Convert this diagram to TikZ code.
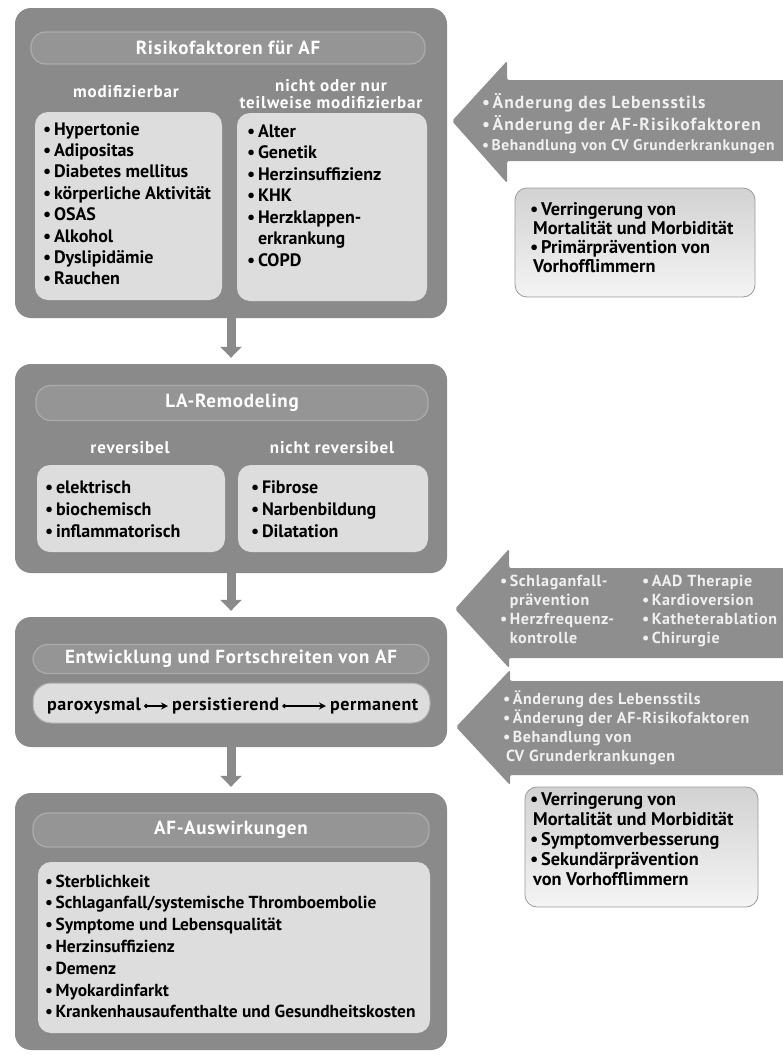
\documentclass[tikz,border=0pt]{standalone}
\usepackage{fontspec}
\setmainfont{PT Sans}
\usetikzlibrary{arrows.meta}
\definecolor{boxgray}{HTML}{8A8A8A}
\definecolor{pillgray}{HTML}{959595}
\definecolor{pillline}{HTML}{ABABAB}
\definecolor{innergray}{HTML}{DDDDDD}
\definecolor{arrowgray}{HTML}{8E8E8E}
\definecolor{lighttext}{HTML}{F0F0F0}
\definecolor{resline}{HTML}{9A9A9A}
\definecolor{restop}{HTML}{D2D2D2}
\definecolor{resbot}{HTML}{F4F4F4}
\newcommand{\bu}{\makebox[0.6em][l]{•}}
\newcommand{\ind}{\makebox[0.6em]{}}
\newcommand{\sind}{\makebox[3pt]{}}
\newcommand{\ls}[1]{\addfontfeature{LetterSpace=#1}}
\begin{document}
\begin{tikzpicture}[x=1pt,y=-1pt,
  outer/.style={fill=boxgray, rounded corners=16pt, minimum width=432pt, inner sep=0pt},
  pill/.style={fill=pillgray, draw=pillline, line width=1.3pt, rounded corners=15pt, inner sep=0pt,
    text=white, font=\fontsize{19}{22}\selectfont\bfseries\ls{4}},
  innerbox/.style={fill=innergray, rounded corners=13pt, inner sep=0pt},
  sub/.style={text=white, font=\fontsize{17}{17.5}\selectfont\bfseries\ls{5}, align=center, inner sep=0pt},
  li/.style={anchor=base west, inner sep=0pt, font=\fontsize{18}{20}\selectfont\bfseries},
  ar/.style={anchor=base west, inner sep=0pt, text=lighttext, font=\fontsize{16}{18}\selectfont\bfseries\ls{4}},
  res/.style={draw=resline, line width=0.8pt, top color=restop, bottom color=resbot,
    rounded corners=12pt, inner sep=0pt},
  conn/.style={draw=boxgray, line width=9pt, -{Triangle[length=11pt,width=21pt]}, shorten >=6pt},
  prog/.style={anchor=base west, inner sep=0pt, text height=12pt, text depth=4pt,
    font=\fontsize{18}{20}\selectfont\bfseries\ls{3}},
  progarrow/.style={line width=1.3pt, {Circle[length=4pt]}-{Stealth[length=7pt,width=7pt]},
    shorten <=3pt, shorten >=4pt}
]
\useasboundingbox[fill=white] (0,0) rectangle (783,1055);

% ---------- outer boxes ----------
\node[outer, minimum height=310pt] (rf) at (231,163) {};
\node[outer, minimum height=209pt] (la) at (231,468.5) {};
\node[outer, minimum height=130pt] (ent) at (231,682) {};
\node[outer, minimum height=257pt] (aus) at (231,921.5) {};

% ---------- connectors ----------
\draw[conn] (rf.south) -- (la.north);
\draw[conn] (la.south) -- (ent.north);
\draw[conn] (ent.south) -- (aus.north);

% ---------- box 1 ----------
\node[pill, minimum width=394pt, minimum height=32pt] (rfT) at (228,48) {Risikofaktoren für AF};
\node[sub] (rfS1) at (126,92) {modifizierbar};
\node[sub] (rfS2) at (331,94) {nicht oder nur\\teilweise modifizierbar};
\node[innerbox, minimum width=187pt, minimum height=188pt] (rfL) at (128.5,206) {};
\node[innerbox, minimum width=190pt, minimum height=188pt] (rfR) at (332,207) {};
\foreach \t [count=\i] in {{\bu Hypertonie},{\bu Adipositas},{\bu Diabetes mellitus},
  {\bu körperliche Aktivität},{\bu OSAS},{\bu Alkohol},{\bu Dyslipidämie},{\bu Rauchen}}
  \node[li] (rfl\i) at (43,{135+21.4*(\i-1)}) {\t};
\foreach \t [count=\i] in {{\bu Alter},{\bu Genetik},{\bu Herzinsuffizienz},{\bu KHK},
  {\bu Herzklappen-},{\ind erkrankung},{\bu COPD}}
  \node[li] (rfr\i) at (247,{137+21.5*(\i-1)}) {\t};

% ---------- box 2 ----------
\node[pill, minimum width=392pt, minimum height=35pt] (laT) at (232,403) {LA-Remodeling};
\node[sub] (laS1) at (130,448) {reversibel};
\node[sub] (laS2) at (332,448) {nicht reversibel};
\node[innerbox, minimum width=188pt, minimum height=87pt] (laL) at (131,508.5) {};
\node[innerbox, minimum width=190pt, minimum height=87pt] (laR) at (333,508.5) {};
\foreach \t [count=\i] in {{\bu elektrisch},{\bu biochemisch},{\bu inflammatorisch}}
  \node[li] (lal\i) at (45,{493+22*(\i-1)}) {\t};
\foreach \t [count=\i] in {{\bu Fibrose},{\bu Narbenbildung},{\bu Dilatation}}
  \node[li] (lar\i) at (251,{493+22*(\i-1)}) {\t};

% ---------- box 3 ----------
\node[pill, minimum width=396pt, minimum height=29pt] (entT) at (231,659) {Entwicklung und Fortschreiten von AF};
\node[innerbox, rounded corners=18pt, draw=pillline, line width=1pt, minimum width=397pt, minimum height=40pt] (entP) at (231.5,703) {};
\node[prog] (pa) at (47,710) {paroxysmal};
\node[prog] (pe) at (172,710) {persistierend};
\node[prog] (pm) at (330,710) {permanent};
\draw[progarrow] (pa.east) -- (pe.west);
\draw[progarrow] (pe.east) -- (pm.west);

% ---------- box 4 ----------
\node[pill, minimum width=396pt, minimum height=34pt] (ausT) at (231,830) {AF-Auswirkungen};
\node[innerbox, minimum width=392pt, minimum height=171pt] (ausL) at (234,947.5) {};
\foreach \t [count=\i] in {{\bu Sterblichkeit},{\bu Schlaganfall/systemische Thromboembolie},
  {\bu Symptome und Lebensqualität},{\bu Herzinsuffizienz},{\bu Demenz},{\bu Myokardinfarkt},
  {\bu Krankenhausaufenthalte und Gesundheitskosten}}
  \node[li, font=\fontsize{17.4}{20}\selectfont\bfseries] (ausl\i) at (45,{887+21.8*(\i-1)}) {\t};

% ---------- right arrows ----------
\fill[arrowgray, rounded corners=2pt] (452,121) -- (507,61) -- (507,80) -- (800,80) -- (800,161)
  -- (507,161) -- (507,183) -- cycle;
\fill[arrowgray, rounded corners=2pt] (455,609) -- (509,549) -- (509,568) -- (800,568) -- (800,658)
  -- (509,658) -- (509,668) -- cycle;
\fill[arrowgray, rounded corners=2pt] (456,727) -- (510,670) -- (510,681) -- (800,681) -- (800,775)
  -- (510,775) -- (510,785) -- cycle;

\node[ar, font=\fontsize{17.5}{18}\selectfont\bfseries\ls{6}] (a1a) at (482,108) {\bu Änderung des Lebensstils};
\node[ar, font=\fontsize{17.5}{18}\selectfont\bfseries\ls{6}] (a1b) at (482,130) {\bu Änderung der AF-Risikofaktoren};
\node[ar, font=\fontsize{15.5}{18}\selectfont\bfseries\ls{4}] (a1c) at (482,150) {\bu Behandlung von CV Grunderkrankungen};

\foreach \t [count=\i] in {{\bu Schlaganfall-},{\ind prävention},{\bu Herzfrequenz-},{\ind kontrolle}}
  \node[ar] (a2l\i) at (500,{586+19.3*(\i-1)}) {\t};
\foreach \t [count=\i] in {{\bu AAD Therapie},{\bu Kardioversion},{\bu Katheterablation},{\bu Chirurgie}}
  \node[ar] (a2r\i) at (642,{586+19.3*(\i-1)}) {\t};
\foreach \t [count=\i] in {{\bu Änderung des Lebensstils},{\bu Änderung der AF-Risikofaktoren},
  {\bu Behandlung von},{\sind CV Grunderkrankungen}}
  \node[ar] (a3\i) at (503,{704+19*(\i-1)}) {\t};

% ---------- result boxes ----------
\node[res, minimum width=240pt, minimum height=109pt] (res1) at (635,242.5) {};
\foreach \t [count=\i] in {{\bu Verringerung von},{\sind Mortalität und Morbidität},
  {\bu Primärprävention von},{\sind Vorhofflimmern}}
  \node[li, font=\fontsize{18.3}{20}\selectfont\bfseries] (r1\i) at (530,{215+19.3*(\i-1)}) {\t};
\node[res, minimum width=233pt, minimum height=120pt] (res2) at (641.5,847) {};
\foreach \t [count=\i] in {{\bu Verringerung von},{\sind Mortalität und Morbidität},
  {\bu Symptomverbesserung},{\bu Sekundärprävention},{\sind von Vorhofflimmern}}
  \node[li, font=\fontsize{18.3}{20}\selectfont\bfseries] (r2\i) at (530,{805+20*(\i-1)}) {\t};
\end{tikzpicture}
\end{document}
